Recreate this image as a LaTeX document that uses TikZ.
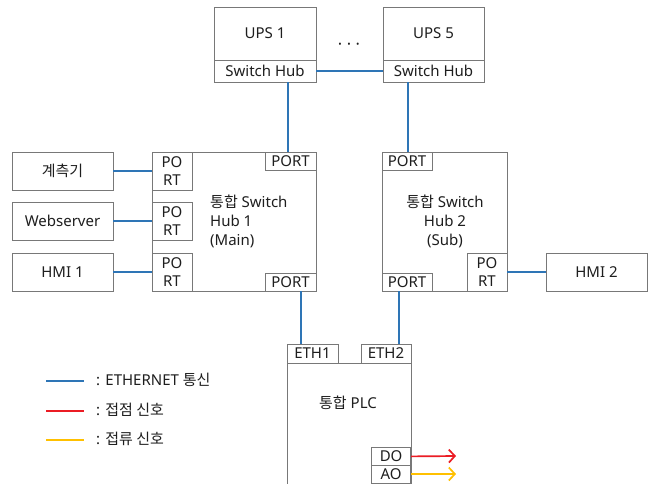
\documentclass[tikz,border=0pt]{standalone}
\usepackage{fontspec}
\setmainfont{Noto Sans}
\newfontfamily\kr{Noto Sans CJK KR}
\usetikzlibrary{arrows.meta,calc}
\definecolor{ethblue}{RGB}{46,117,182}
\definecolor{sigred}{RGB}{235,28,36}
\definecolor{sigyel}{RGB}{255,192,0}
\definecolor{boxgray}{RGB}{120,120,120}
\definecolor{textc}{RGB}{30,30,30}
\begin{document}
\begin{tikzpicture}[x=1pt,y=-1pt,
  font=\fontsize{15}{18}\selectfont,
  box/.style={draw=boxgray, line width=0.8pt, inner sep=0pt, align=center, text=textc},
  lbl/.style={inner sep=0pt, text=textc, align=center},
  eth/.style={draw=ethblue, line width=1.7pt},
  redsig/.style={draw=sigred, line width=1.7pt, -{Straight Barb[length=6pt,width=13pt]}},
  yelsig/.style={draw=sigyel, line width=1.7pt, -{Straight Barb[length=6pt,width=13pt]}},
  portbox/.style={box, minimum width=40pt, minimum height=38pt, font=\fontsize{15}{18}\selectfont},
  wideport/.style={box, minimum width=51pt, minimum height=18pt},
  devbox/.style={box, minimum width=101pt, minimum height=38pt}
]
\clip (0,0) rectangle (651,483);
\fill[white] (0,0) rectangle (651,483);

% UPS boxes
\node[box, minimum width=102pt, minimum height=53pt] (ups1) at (265,33.5) {UPS 1};
\node[box, minimum width=102pt, minimum height=22pt] (sh1) at (265,71) {Switch Hub};
\node[box, minimum width=101pt, minimum height=53pt] (ups5) at (433.5,33.5) {UPS 5};
\node[box, minimum width=101pt, minimum height=22pt] (sh5) at (433.5,71) {Switch Hub};
\node[lbl, font=\fontsize{9}{10}\selectfont] (dots) at (349,45) {•\hspace{5.5pt}•\hspace{5.5pt}•};

% Hub 1
\node[box, minimum width=164pt, minimum height=139pt] (hub1) at (234,221.5) {};
\node[lbl, anchor=west, align=left, font=\fontsize{15}{19}\selectfont] (hub1txt) at (210,221) {{\kr 통합} Switch\\Hub 1\\(Main)};
\node[portbox] (p1a) at (172,171) {PO\\RT};
\node[portbox] (p1b) at (172,221) {PO\\RT};
\node[portbox] (p1c) at (172,272) {PO\\RT};
\node[wideport] (p1top) at (290.5,161) {PORT};
\node[wideport] (p1bot) at (290.5,282) {PORT};

% left devices
\node[devbox] (meter) at (62.5,171) {\kr 계측기};
\node[devbox] (web) at (62.5,221) {Webserver};
\node[devbox] (hmi1) at (62.5,272) {HMI 1};

% Hub 2
\node[box, minimum width=125pt, minimum height=139pt] (hub2) at (444.5,221.5) {};
\node[lbl, font=\fontsize{15}{19}\selectfont] (hub2txt) at (445,221) {{\kr 통합} Switch\\Hub 2\\(Sub)};
\node[box, minimum width=50pt, minimum height=18pt] (p2top) at (407,161) {PORT};
\node[box, minimum width=50pt, minimum height=18pt] (p2bot) at (407,282) {PORT};
\node[portbox] (p2r) at (487,272) {PO\\RT};
\node[devbox] (hmi2) at (596.5,272) {HMI 2};

% PLC
\node[box, minimum width=124pt, minimum height=140pt, anchor=north west] (plc) at (287,363) {};
\node[box, minimum width=51pt, minimum height=19pt] (eth1) at (312.5,353.5) {ETH1};
\node[box, minimum width=50pt, minimum height=19pt] (eth2) at (386,353.5) {ETH2};
\node[lbl] (plctxt) at (348,403) {{\kr 통합} PLC};
\node[box, minimum width=39pt, minimum height=18pt, anchor=north east] (do) at (411,447) {DO};
\node[box, minimum width=39pt, minimum height=17.5pt, anchor=north east] (ao) at (411,465) {AO};

% ethernet connectors
\draw[eth] (sh1.east) -- (sh5.west);
\draw[eth] ([xshift=23pt]sh1.south) -- ([xshift=23pt]sh1.south |- p1top.north);
\draw[eth] ([xshift=-25.5pt]sh5.south) -- ([xshift=-25.5pt]sh5.south |- p2top.north);
\draw[eth] (meter.east) -- (p1a.west);
\draw[eth] (web.east) -- (p1b.west);
\draw[eth] (hmi1.east) -- (p1c.west);
\draw[eth] (p2r.east) -- (hmi2.west);
\draw[eth] ([xshift=10.5pt]p1bot.south) -- ([xshift=10.5pt]p1bot.south |- eth1.north);
\draw[eth] ([xshift=-8pt]p2bot.south) -- ([xshift=-8pt]p2bot.south |- eth2.north);

% signal outputs
\coordinate (doend) at (456,456);
\coordinate (aoend) at (456,474);
\draw[redsig] (do.east) -- (doend);
\draw[yelsig] (ao.east |- aoend) -- (aoend);

% legend
\coordinate (l1a) at (46,381); \coordinate (l1b) at (84,381);
\coordinate (l2a) at (46,411); \coordinate (l2b) at (84,411);
\coordinate (l3a) at (46,440); \coordinate (l3b) at (84,440);
\draw[eth] (l1a) -- (l1b);
\draw[draw=sigred, line width=1.7pt] (l2a) -- (l2b);
\draw[draw=sigyel, line width=1.7pt] (l3a) -- (l3b);
\node[lbl, anchor=west] (leg1) at (96,380) {: ETHERNET {\kr 통신}};
\node[lbl, anchor=west] (leg2) at (96,410) {: {\kr 접점 신호}};
\node[lbl, anchor=west] (leg3) at (96,439) {: {\kr 접류 신호}};
\end{tikzpicture}
\end{document}
